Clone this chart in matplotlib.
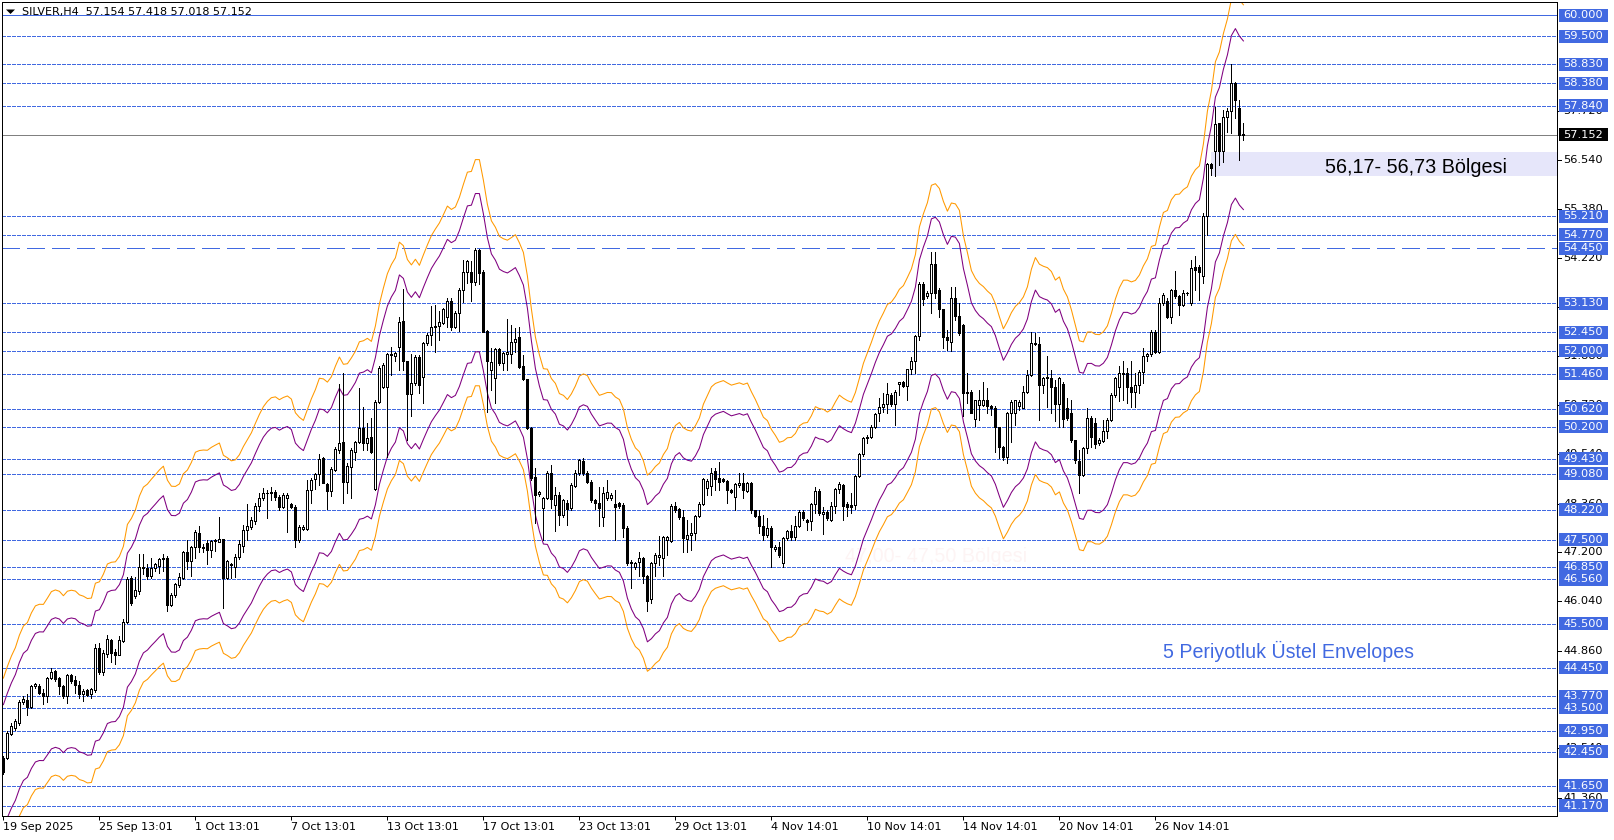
import matplotlib
matplotlib.use('Agg')
import matplotlib.pyplot as plt
from matplotlib.patches import Rectangle, Polygon
from matplotlib.transforms import blended_transform_factory
import numpy as np

# ---------------- data ----------------
symbol_title = "SILVER,H4  57.154 57.418 57.018 57.152"

opens = [
    42.31, 42.31, 42.88, 43.02, 43.15, 43.63, 43.68, 43.52, 44.02, 44.02,
    43.86, 43.77, 44.20, 44.37, 44.20, 44.01, 43.77, 44.28, 44.16, 44.04,
    43.82, 43.92, 43.82, 43.93, 44.93, 44.35, 44.79, 45.11, 44.84, 44.76,
    45.09, 45.55, 46.60, 46.16, 46.29, 46.86, 46.84, 46.64, 46.84, 46.88,
    47.04, 47.08, 45.96, 46.18, 46.42, 46.60, 47.20, 46.99, 47.34, 47.66,
    47.34, 47.42, 47.26, 47.48, 47.46, 47.51, 46.60, 46.92, 46.86, 47.10,
    47.36, 47.74, 47.81, 47.95, 48.31, 48.49, 48.61, 48.62, 48.63, 48.52,
    48.29, 48.50, 48.36, 48.29, 47.50, 47.77, 47.77, 48.69, 48.95, 49.06,
    49.44, 48.83, 48.67, 49.17, 49.64, 49.84, 48.89, 49.24, 49.60, 49.82,
    50.16, 49.80, 49.96, 48.71, 50.79, 51.15, 51.15, 51.93, 51.88, 52.09,
    52.72, 51.76, 50.97, 51.23, 51.86, 51.39, 52.18, 52.38, 52.56, 52.59,
    52.67, 52.80, 53.20, 52.58, 52.90, 53.45, 53.89, 53.89, 53.63, 54.40,
    53.89, 52.47, 51.55, 51.35, 52.04, 51.71, 51.93, 51.93, 52.21, 52.32,
    51.63, 51.32, 50.16, 48.99, 48.59, 48.25, 48.49, 49.09, 48.33, 48.57,
    48.09, 48.37, 48.25, 48.79, 49.09, 49.39, 49.10, 48.89, 48.45, 48.39,
    48.04, 48.49, 48.49, 48.36, 48.39, 48.33, 47.78, 46.94, 46.86, 46.98,
    47.08, 46.63, 46.10, 46.94, 47.10, 47.06, 47.50, 47.48, 48.31, 48.23,
    48.04, 47.51, 47.62, 47.66, 48.07, 48.36, 48.73, 48.79, 49.13, 48.97,
    48.94, 48.91, 48.69, 48.51, 48.81, 48.86, 48.67, 48.86, 48.20, 48.07,
    47.83, 47.62, 47.78, 47.28, 47.32, 46.94, 47.54, 47.70, 47.58, 47.83,
    48.17, 47.97, 47.96, 48.36, 48.67, 48.12, 48.17, 47.97, 48.31, 48.71,
    48.81, 48.36, 48.33, 48.33, 49.02, 49.55, 49.92, 49.96, 50.20, 50.52,
    50.66, 50.74, 50.95, 50.74, 51.21, 51.27, 51.17, 51.56, 51.77, 52.36,
    53.59, 53.31, 53.39, 54.07, 53.45, 52.99, 52.33, 52.22, 53.25, 52.82,
    52.62, 51.03, 51.03, 50.37, 50.72, 50.72, 50.84, 50.69, 50.64, 50.20,
    49.71, 49.48, 50.53, 50.53, 50.69, 50.64, 51.01, 51.43, 52.20, 52.17,
    51.19, 51.37, 51.35, 51.15, 50.74, 51.21, 50.64, 50.53, 49.87, 49.38,
    49.05, 49.68, 50.40, 50.28, 49.80, 49.86, 50.09, 50.36, 50.95, 51.13,
    51.45, 51.47, 51.13, 51.01, 51.19, 51.49, 51.87, 51.93, 52.46, 51.98,
    53.15, 53.20, 52.80, 53.44, 53.31, 53.10, 53.39, 53.14, 53.99, 53.99,
    53.79, 55.21, 56.45, 56.75, 57.42, 56.75, 57.56, 57.71, 58.39, 57.79,
    57.154,
]

highs = [
    42.35, 42.94, 43.14, 43.23, 43.69, 43.77, 43.82, 44.04, 44.10, 44.06,
    43.94, 44.23, 44.44, 44.41, 44.23, 44.04, 44.30, 44.30, 44.27, 44.14,
    43.94, 43.96, 43.98, 45.01, 45.05, 44.87, 45.23, 45.15, 44.91, 45.21,
    45.62, 46.62, 46.64, 46.61, 47.16, 47.16, 46.92, 47.08, 46.96, 47.08,
    47.16, 47.12, 46.24, 46.48, 46.72, 47.24, 47.49, 47.36, 47.74, 47.82,
    47.40, 47.49, 47.50, 47.53, 48.05, 47.53, 47.02, 46.96, 47.16, 47.49,
    47.85, 48.36, 48.05, 48.37, 48.61, 48.73, 48.69, 48.76, 48.69, 48.57,
    48.61, 48.61, 48.39, 48.33, 47.85, 47.85, 48.93, 48.97, 49.10, 49.54,
    49.48, 48.86, 49.24, 49.72, 51.21, 51.47, 49.32, 49.68, 49.86, 51.11,
    50.67, 50.28, 50.40, 50.83, 51.63, 51.71, 51.95, 52.10, 51.98, 52.80,
    53.47, 51.76, 51.93, 51.90, 51.90, 52.22, 52.42, 53.07, 53.09, 52.94,
    53.03, 53.25, 53.25, 52.94, 53.49, 54.17, 54.17, 54.13, 54.44, 54.43,
    53.93, 52.50, 52.06, 52.06, 52.06, 51.98, 52.75, 52.62, 52.54, 52.58,
    51.90, 51.34, 50.20, 49.21, 48.67, 48.53, 49.13, 49.29, 48.77, 48.65,
    48.48, 48.45, 48.85, 49.17, 49.42, 49.44, 49.13, 48.92, 48.48, 48.77,
    48.77, 48.93, 48.61, 48.69, 48.40, 48.37, 47.82, 47.02, 46.98, 47.20,
    47.10, 46.66, 46.98, 47.18, 47.60, 47.60, 47.60, 48.35, 48.41, 48.27,
    48.21, 47.98, 47.90, 48.09, 48.40, 48.98, 48.95, 49.20, 49.20, 49.36,
    48.97, 48.93, 48.71, 48.85, 49.09, 49.09, 48.88, 48.89, 48.22, 48.21,
    48.09, 48.01, 47.82, 47.38, 47.46, 47.58, 47.74, 47.86, 48.06, 48.21,
    48.21, 48.00, 48.37, 48.77, 48.71, 48.29, 48.21, 48.41, 48.73, 48.89,
    48.83, 48.41, 48.61, 49.04, 49.57, 49.96, 50.00, 50.24, 50.52, 50.87,
    50.99, 51.23, 50.99, 51.07, 51.27, 51.29, 51.58, 51.86, 52.38, 53.65,
    53.63, 53.43, 54.36, 54.36, 53.49, 53.01, 52.50, 53.52, 53.53, 53.14,
    52.65, 51.47, 51.06, 50.83, 51.07, 51.27, 51.11, 50.71, 50.68, 50.20,
    49.73, 50.55, 50.83, 50.84, 50.83, 51.17, 51.55, 52.46, 52.42, 52.34,
    51.39, 51.87, 51.55, 51.31, 51.39, 51.27, 50.87, 50.83, 49.89, 49.64,
    49.72, 50.64, 50.45, 50.40, 49.92, 50.36, 50.40, 50.99, 51.39, 51.63,
    51.75, 51.59, 51.75, 51.47, 51.55, 52.06, 51.94, 52.50, 52.50, 53.25,
    53.39, 53.25, 53.47, 53.91, 53.33, 53.44, 53.41, 54.17, 54.25, 54.05,
    55.28, 56.48, 56.48, 57.82, 57.44, 57.74, 57.78, 58.83, 58.41, 57.98,
    57.418,
]

lows = [
    41.93, 42.27, 42.86, 42.98, 43.10, 43.58, 43.34, 43.49, 43.98, 43.82,
    43.60, 43.64, 44.18, 44.14, 43.82, 43.74, 43.62, 44.10, 43.86, 43.74,
    43.66, 43.77, 43.74, 43.88, 44.31, 44.28, 44.71, 44.59, 44.55, 44.75,
    45.07, 45.51, 45.96, 46.12, 46.20, 46.68, 46.56, 46.60, 46.76, 46.72,
    46.76, 45.80, 45.92, 46.13, 46.38, 46.56, 46.80, 46.64, 47.08, 47.20,
    47.20, 46.92, 47.10, 47.24, 47.45, 45.88, 46.58, 46.60, 46.62, 47.04,
    47.20, 47.49, 47.77, 47.89, 48.19, 48.45, 48.03, 48.45, 48.45, 48.21,
    48.25, 47.69, 48.25, 47.33, 47.45, 47.73, 47.73, 48.37, 48.71, 48.81,
    48.85, 48.23, 48.55, 49.13, 49.56, 48.39, 48.61, 48.49, 49.40, 49.80,
    49.64, 49.64, 49.58, 48.69, 50.75, 51.11, 49.48, 51.43, 51.76, 51.55,
    51.55, 49.88, 50.44, 51.19, 50.99, 50.75, 52.14, 52.14, 51.98, 52.26,
    52.63, 52.58, 52.50, 52.54, 52.48, 53.17, 53.61, 53.20, 53.57, 53.59,
    52.44, 50.55, 51.07, 50.75, 51.67, 51.55, 51.55, 51.71, 51.98, 51.59,
    51.31, 50.13, 48.93, 47.90, 48.55, 47.50, 48.47, 48.25, 47.70, 47.86,
    48.05, 47.86, 48.21, 48.77, 49.05, 49.05, 48.85, 48.40, 48.23, 47.82,
    47.82, 48.45, 48.45, 47.50, 48.25, 47.58, 46.90, 46.35, 46.80, 46.63,
    46.47, 45.80, 46.00, 46.63, 46.90, 46.63, 47.14, 47.44, 48.17, 48.00,
    47.22, 47.22, 47.26, 47.50, 48.05, 48.33, 48.57, 48.57, 48.69, 48.69,
    48.87, 48.37, 48.61, 48.21, 48.77, 48.49, 48.65, 48.13, 48.05, 47.66,
    47.50, 47.58, 46.86, 47.24, 47.10, 46.86, 47.50, 47.50, 47.50, 47.80,
    47.98, 47.74, 47.74, 48.13, 48.09, 47.64, 47.98, 47.94, 48.13, 48.61,
    47.98, 48.06, 48.13, 48.23, 49.00, 49.50, 49.80, 49.92, 50.16, 50.32,
    50.55, 50.51, 50.70, 50.24, 50.95, 51.13, 50.83, 51.45, 51.47, 52.26,
    53.09, 53.27, 52.90, 53.25, 52.80, 52.06, 52.03, 52.00, 52.74, 52.38,
    50.44, 50.76, 50.52, 50.22, 50.36, 50.68, 50.52, 50.48, 49.60, 49.45,
    49.40, 49.34, 49.84, 50.24, 50.60, 50.64, 50.99, 51.40, 52.14, 50.36,
    50.99, 50.67, 50.52, 50.32, 50.20, 50.20, 50.36, 49.84, 49.32, 48.61,
    49.01, 49.56, 49.72, 49.69, 49.76, 49.84, 49.92, 50.32, 50.91, 50.80,
    50.84, 50.76, 50.67, 50.67, 50.99, 51.23, 51.75, 51.88, 51.96, 51.96,
    53.10, 52.78, 52.67, 53.25, 52.86, 53.06, 53.33, 53.10, 53.45, 53.21,
    53.61, 54.76, 56.19, 56.17, 56.43, 56.51, 57.22, 57.18, 57.54, 56.55,
    57.018,
]

closes = [
    41.97, 42.90, 43.07, 43.18, 43.64, 43.70, 43.52, 44.02, 44.06, 43.85,
    43.77, 44.20, 44.36, 44.18, 44.01, 43.77, 44.28, 44.14, 44.04, 43.82,
    43.90, 43.80, 43.94, 44.93, 44.35, 44.81, 45.15, 44.81, 44.76, 45.11,
    45.55, 46.58, 46.00, 46.30, 46.86, 46.84, 46.64, 46.84, 46.92, 47.04,
    47.08, 45.96, 46.18, 46.44, 46.62, 47.20, 46.99, 47.34, 47.69, 47.34,
    47.30, 47.26, 47.47, 47.49, 47.53, 46.60, 46.99, 46.89, 47.10, 47.40,
    47.73, 47.82, 47.98, 48.31, 48.49, 48.61, 48.62, 48.63, 48.52, 48.29,
    48.57, 48.57, 48.29, 47.50, 47.81, 47.81, 48.69, 48.93, 49.06, 49.42,
    48.86, 48.67, 49.18, 49.66, 49.80, 48.89, 49.26, 49.63, 49.82, 50.16,
    49.80, 49.92, 49.60, 50.79, 51.59, 51.67, 51.93, 51.90, 51.94, 52.70,
    51.75, 50.97, 51.23, 51.86, 51.19, 52.18, 52.38, 52.56, 52.59, 52.70,
    52.99, 53.20, 52.58, 52.90, 53.45, 53.89, 54.13, 53.63, 54.40, 53.86,
    52.46, 51.75, 51.73, 52.04, 51.71, 51.96, 51.97, 52.21, 52.29, 51.61,
    51.32, 50.16, 48.97, 48.57, 48.63, 48.49, 49.09, 48.47, 48.57, 48.09,
    48.44, 48.23, 48.81, 49.09, 49.40, 49.10, 48.89, 48.44, 48.37, 48.25,
    48.61, 48.65, 48.57, 48.28, 48.31, 47.78, 46.94, 46.98, 46.94, 47.06,
    46.63, 46.05, 46.94, 47.14, 47.14, 47.56, 47.58, 48.31, 48.21, 48.04,
    47.54, 47.62, 47.66, 48.07, 48.36, 48.94, 48.91, 49.10, 48.94, 48.89,
    48.91, 48.69, 48.65, 48.83, 48.85, 48.69, 48.86, 48.20, 48.07, 47.82,
    47.62, 47.79, 47.34, 47.34, 47.14, 47.54, 47.70, 47.58, 47.83, 48.17,
    48.01, 47.93, 48.36, 48.67, 48.13, 48.17, 48.01, 48.31, 48.71, 48.83,
    48.31, 48.29, 48.29, 49.02, 49.55, 49.92, 49.96, 50.20, 50.50, 50.66,
    50.74, 50.97, 50.74, 51.01, 51.25, 51.17, 51.56, 51.77, 52.36, 53.59,
    53.23, 53.39, 54.07, 53.39, 52.99, 52.33, 52.25, 53.25, 52.82, 52.42,
    50.99, 50.99, 50.53, 50.82, 50.82, 50.84, 50.68, 50.64, 50.18, 49.71,
    49.48, 50.53, 50.79, 50.82, 50.79, 51.01, 51.43, 52.18, 52.17, 51.19,
    51.35, 51.35, 51.15, 50.74, 51.35, 50.37, 50.40, 49.87, 49.40, 49.05,
    49.68, 50.40, 49.96, 49.79, 49.88, 50.09, 50.36, 50.95, 51.35, 51.47,
    51.47, 51.13, 51.01, 51.19, 51.49, 51.87, 51.93, 52.46, 51.98, 53.15,
    53.33, 52.80, 53.44, 53.31, 53.10, 53.39, 53.37, 53.97, 53.93, 53.89,
    55.21, 56.45, 56.35, 57.40, 56.75, 57.56, 57.71, 58.39, 57.98, 57.14,
    57.152,
]

# envelopes indicator settings
env_period = 5
env_inner_pct = 3.5
env_outer_pct = 5.0
env_start = 42.17          # indicator level just before the first visible bar

# horizontal levels drawn on the chart
level_lines = [60.000, 59.500, 58.830, 58.380, 57.840, 55.210, 54.770, 54.450,
               53.130, 52.450, 52.000, 51.460, 50.620, 50.200, 49.430, 49.080,
               48.220, 47.500, 46.850, 46.560, 45.500, 44.450, 43.770, 43.500,
               42.950, 42.450, 41.650, 41.170]
solid_level = 60.000
long_dash_level = 54.450
last_price = 57.152

# price-scale labels that are (at least partly) visible
scale_ticks = [57.720, 56.540, 55.380, 54.220, 53.040, 51.880, 50.720,
               49.540, 48.360, 47.200, 46.040, 44.860, 42.540, 41.360]

time_tick_bars = [0, 24, 48, 72, 96, 120, 144, 168, 192, 216, 240, 264, 288]
time_tick_labels = ["19 Sep 2025", "25 Sep 13:01", "1 Oct 13:01", "7 Oct 13:01",
                    "13 Oct 13:01", "17 Oct 13:01", "23 Oct 13:01", "29 Oct 13:01",
                    "4 Nov 14:01", "10 Nov 14:01", "14 Nov 14:01", "20 Nov 14:01",
                    "26 Nov 14:01"]

zone_low, zone_high = 56.17, 56.73
zone_label = "56,17- 56,73 Bölgesi"
faint_label = "47,00- 47,50 Bölgesi"
env_label = "5 Periyotluk Üstel Envelopes"

# ---------------- styling / layout ----------------
W, H = 1614, 840
ROYAL = '#4169E1'
PURPLE = '#800080'
ORANGE = '#FF9900'
LW = 0.72  # 1 px

fig = plt.figure(figsize=(W / 100, H / 100), dpi=100)
fig.patch.set_facecolor('white')
ax = fig.add_axes([2 / W, 24 / H, 1555 / W, 814 / H])
ax.set_facecolor('white')
XMIN, XMAX = -0.35, 388.4
ax.set_xlim(XMIN, XMAX)
ax.set_ylim(40.924, 60.310)
PPU = 814 / (60.310 - 40.924)  # pixels per price unit

o = np.array(opens); h = np.array(highs); l = np.array(lows); c = np.array(closes)
h = np.maximum(h, np.maximum(o, c))
l = np.minimum(l, np.minimum(o, c))
x = np.arange(len(c))

# horizontal levels
for lv in level_lines:
    if lv == solid_level:
        ls = '-'
    elif lv == long_dash_level:
        ls = (0, (17, 8))
    else:
        ls = (0, (4, 2))
    ax.axhline(lv, color=ROYAL, lw=LW, ls=ls, zorder=1, antialiased=False)
ax.axhline(last_price, color='#808080', lw=LW, zorder=1.2, antialiased=False)

# zone rectangle and faint label
zone_start = x[-1] - 8.1
ax.add_patch(Rectangle((zone_start, zone_low), XMAX - zone_start, zone_high - zone_low,
                       fc='#E6E6FA', ec='none', zorder=0.6))
ax.text(210.4, 46.98, faint_label, fontsize=14.2, family='Liberation Sans',
        color='#FDF4F4', ha='left', va='baseline', zorder=0.5)

# envelopes (EMA of close)
alpha = 2.0 / (env_period + 1)
ema = []
prev = env_start
for v in c:
    prev = alpha * v + (1 - alpha) * prev
    ema.append(prev)
ema = np.array(ema)
for k, col in ((1 + env_outer_pct / 100, ORANGE), (1 - env_outer_pct / 100, ORANGE),
               (1 + env_inner_pct / 100, PURPLE), (1 - env_inner_pct / 100, PURPLE)):
    ax.plot(x, ema * k, color=col, lw=LW * 1.05, zorder=2)

# candles
ax.vlines(x, l, h, colors='black', lw=LW, zorder=3, antialiased=False)
bottoms = np.minimum(o, c)
heights = np.maximum(np.abs(c - o), 0.004)
fills = ['white' if cc >= oo else 'black' for oo, cc in zip(o, c)]
ax.bar(x, heights, bottom=bottoms, width=0.5, color=fills, edgecolor='black',
       linewidth=LW, zorder=4, antialiased=False)

# annotations
ax.text(330.4, 56.245, zone_label, fontsize=14.2, family='Liberation Sans',
        color='black', ha='left', va='baseline', zorder=6)
ax.text(289.9, 44.694, env_label, fontsize=14.1, family='Liberation Sans',
        color=ROYAL, ha='left', va='baseline', zorder=6)

# price scale on the right
trans = blended_transform_factory(fig.transFigure, ax.transData)
for t in scale_ticks:
    ax.plot([1557 / W, 1561 / W], [t, t], transform=trans, color='black', lw=LW,
            clip_on=False, zorder=5)
    ax.text(1563 / W, t, f"{t:.3f}", transform=trans, fontsize=8.2, color='black',
            ha='left', va='center', clip_on=False, zorder=5)
box_h = 13 / PPU
for lv in level_lines:
    ax.add_patch(Rectangle((1558.5 / W, lv - box_h / 2), 49.5 / W, box_h, transform=trans,
                           fc=ROYAL, ec='none', clip_on=False, zorder=6))
    ax.text(1563 / W, lv, f"{lv:.3f}", transform=trans, fontsize=8.2, color='white',
            ha='left', va='center', clip_on=False, zorder=7)
ax.add_patch(Rectangle((1558.5 / W, last_price - box_h / 2), 49.5 / W, box_h, transform=trans,
                       fc='black', ec='none', clip_on=False, zorder=6))
ax.text(1563 / W, last_price, f"{last_price:.3f}", transform=trans, fontsize=8.2,
        color='white', ha='left', va='center', clip_on=False, zorder=7)

# time axis
ax.set_xticks(time_tick_bars)
ax.set_xticklabels(time_tick_labels, ha='left', fontsize=8)
ax.tick_params(axis='x', direction='out', length=3, width=LW, pad=1.5, colors='black')
ax.set_yticks([])
for s in ax.spines.values():
    s.set_linewidth(LW)
    s.set_color('black')

# title
fig.text(22 / W, 1 - 12 / H, symbol_title, fontsize=8, ha='left', va='center', color='black')
fig.patches.append(Polygon([(6 / W, 1 - 9.5 / H), (15 / W, 1 - 9.5 / H), (10.5 / W, 1 - 14 / H)],
                           closed=True, transform=fig.transFigure, fc='black', ec='none'))

fig.savefig('out.png', dpi=100)
